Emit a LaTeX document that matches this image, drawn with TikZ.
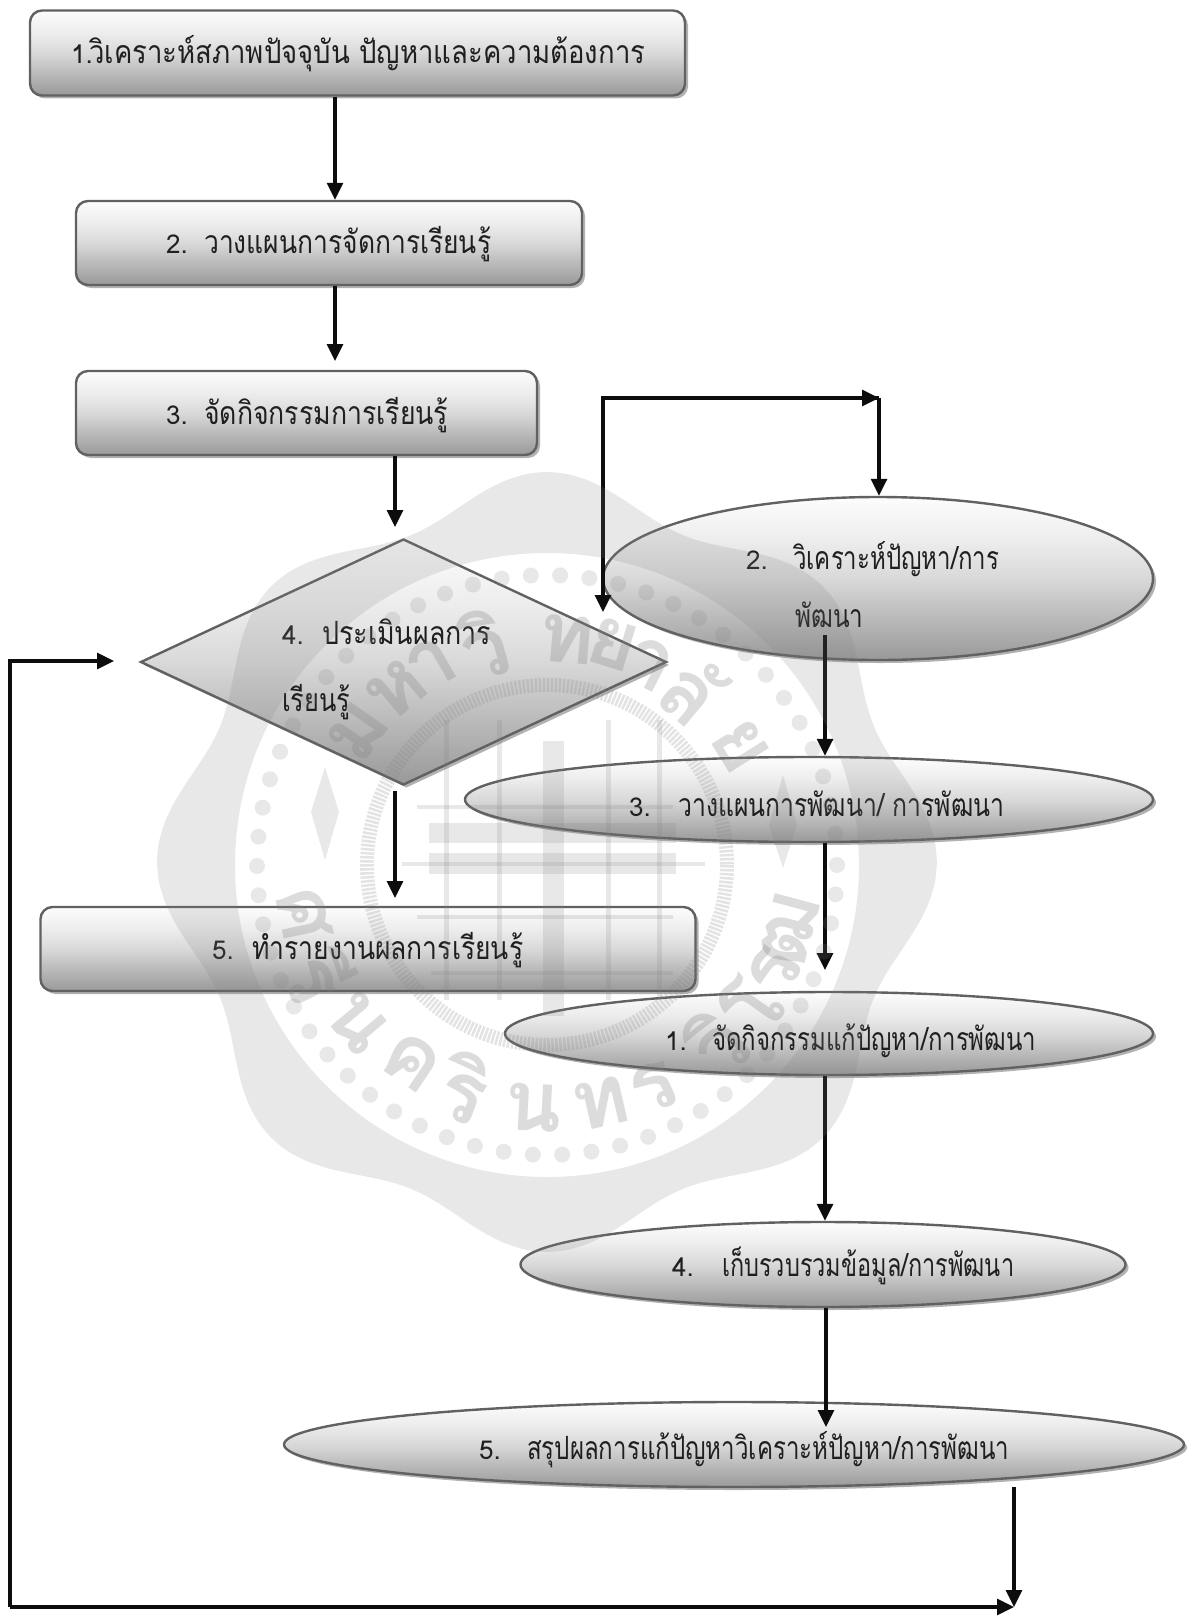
\documentclass[tikz,border=0pt]{standalone}
\usepackage{fontspec}
\usepackage{graphicx}
\setmainfont[Script=Thai]{Loma}
\usetikzlibrary{shapes.geometric,shadows,arrows.meta}
\definecolor{shtop}{gray}{0.99}
\definecolor{shup}{gray}{0.93}
\definecolor{shmid}{gray}{0.85}
\definecolor{shbot}{gray}{0.60}
\definecolor{edgegray}{gray}{0.38}
\definecolor{inkdark}{gray}{0.05}
\pgfdeclareverticalshading{sheen}{100bp}{color(0bp)=(shbot); color(25bp)=(shbot); color(50bp)=(shmid); color(62bp)=(shup); color(75bp)=(shtop); color(100bp)=(shtop)}
\tikzset{
  shapebase/.style={draw=edgegray,line width=2.4pt,shading=sheen,inner sep=0pt,
    drop shadow={shadow xshift=3pt,shadow yshift=-3pt,fill=black!30,opacity=1}},
  boxnode/.style={shapebase,rectangle,rounded corners=12pt},
  ovalnode/.style={shapebase,ellipse},
  decide/.style={shapebase,diamond,aspect=2.14},
  lbl/.style={inner sep=0pt,font=\fontsize{26}{30}\selectfont,text=black!88},
  flow/.style={line width=3.2pt,draw=inkdark,-{Triangle[length=17pt,width=16pt,fill=inkdark]}},
  wmfill/.style={fill=gray,opacity=0.18,draw=none},
  wmline/.style={draw=gray,opacity=0.22},
  wmletter/.style={inner sep=0pt,text=gray,text opacity=0.28,font=\fontsize{84}{86}\selectfont\bfseries},
}
\newcommand{\lab}[7]{%
  \pgfmathsetlengthmacro\gapw{(#3-#2)*1pt}%
  \pgfmathsetlengthmacro\thw{(#4-#3)*1pt}%
  \node[lbl,anchor=base west] (#1) at (#2,#5+9) {\makebox[\gapw][l]{#6}\resizebox{\thw}{\height}{\fontsize{32}{34}\selectfont #7}};%
}
\newcommand{\shp}[6]{\node[#1,minimum width=#5 pt,minimum height=#6 pt] (#2) at (#3,#4) {};}
\newcommand{\wml}[5]{\node[wmletter,rotate=#4] (#1) at (#2,#3) {#5};}
\begin{document}
\begin{tikzpicture}[x=1pt,y=-1pt]
\useasboundingbox (0,0) rectangle (1187,1621);
% shapes
\shp{boxnode}{b1}{357.5}{53}{655}{85}
\shp{boxnode}{b2}{329}{243}{506}{84}
\shp{boxnode}{b3}{306.5}{413}{461}{84}
\shp{decide}{d4}{403.5}{662}{526}{246}
\shp{boxnode}{b5}{368}{949}{655}{84}
\shp{ovalnode}{e2}{878}{578.5}{550}{163}
\shp{ovalnode}{e3}{809}{799.5}{688}{85}
\shp{ovalnode}{e1}{829}{1033.5}{648}{83}
\shp{ovalnode}{e4}{823}{1264.5}{605}{85}
\shp{ovalnode}{e5}{734}{1444.5}{900}{85}
% labels
\lab{t1}{71}{89}{645}{55}{1.}{วิเคราะห์สภาพปัจจุบัน ปัญหาและความต้องการ}
\lab{t2}{166}{204}{491}{245}{2.}{วางแผนการจัดการเรียนรู้}
\lab{t3}{166}{204}{448}{415}{3.}{จัดกิจกรรมการเรียนรู้}
\lab{t4a}{282}{322}{491}{635}{4.}{ประเมินผลการ}
\lab{t4b}{282}{282}{350}{702}{}{เรียนรู้}
\lab{t5}{212}{252}{523}{950}{5.}{ทำรายงานผลการเรียนรู้}
\lab{u2a}{746}{793}{999}{560}{2.}{วิเคราะห์ปัญหา/การ}
\lab{u2b}{795}{795}{863}{618}{}{พัฒนา}
\lab{u3}{629}{678}{1004}{807}{3.}{วางแผนการพัฒนา/ การพัฒนา}
\lab{u1}{665}{712}{1036}{1041}{1.}{จัดกิจกรรมแก้ปัญหา/การพัฒนา}
\lab{u4}{672}{722}{1014}{1267}{4.}{เก็บรวบรวมข้อมูล/การพัฒนา}
\lab{u5}{479}{527}{1009}{1450}{5.}{สรุปผลการแก้ปัญหาวิเคราะห์ปัญหา/การพัฒนา}
% connector guide coordinates
\coordinate (ax1) at (335,0);
\coordinate (ax3) at (395,0);
\coordinate (ax8) at (825,0);
\coordinate (ax9) at (826,0);
\coordinate (ax2) at (879,0);
\coordinate (t3) at (395,527);
\coordinate (t2) at (335,361);
\coordinate (s45) at (395,791);
\coordinate (t45) at (395,898);
\coordinate (s23) at (825,635);
\coordinate (t31) at (825,970);
\coordinate (t55) at (826,1427);
\coordinate (lp) at (603,398);
\coordinate (lpr) at (879,398);
\coordinate (lpd) at (603,612);
\coordinate (rs) at (1014,1487);
\coordinate (re) at (1014,1607);
\coordinate (ld) at (10,1607);
\coordinate (lu) at (10,661);
\coordinate (lt) at (114,661);
% connectors
\draw[flow] (b1.south -| ax1) -- (b2.north -| ax1);
\draw[flow] (b2.south -| ax1) -- (t2);
\draw[flow] (b3.south -| ax3) -- (t3);
\draw[flow] (s45) -- (t45);
\draw[flow] (s23) -- (e3.north -| ax8);
\draw[flow] (e3.south -| ax8) -- (t31);
\draw[flow] (e1.south -| ax8) -- (e4.north -| ax8);
\draw[flow] (e4.south -| ax9) -- (t55);
\draw[flow] (lpr) -- (e2.north -| ax2);
\draw[flow] (lpr) -- (lp) -- (lpd);
\draw[flow] (lp) -- (lpr);
\draw[flow] (rs) -- (re);
\draw[flow] (ld) -- (re);
\draw[flow] (ld) -- (lu) -- (lt);
% watermark seal
\fill[wmfill,even odd rule] plot[domain=0:360,samples=121,smooth cycle] ({547+(372+18*cos(8*\x))*cos(\x)},{862+(372+18*cos(8*\x))*sin(\x)}) (547,865) circle[radius=312];
\foreach \a in {0,5.8,...,354} {\fill[wmfill] ({547+290*cos(\a)},{865+290*sin(\a)}) circle[radius=8];}
\draw[wmline,line width=14pt,dash pattern=on 2.5pt off 1.5pt] (547,865) circle[radius=180];
\fill[wmfill] (543,741) rectangle (564,1016);
\foreach \vx in {446,499,608,659} {\fill[wmfill] (\vx-2.5,720) rectangle (\vx+2.5,1000);}
\fill[wmfill] (429,823) rectangle (676,843);
\fill[wmfill] (429,853) rectangle (676,874);
\fill[wmfill] (417,805) rectangle (673,809);
\fill[wmfill] (402,862) rectangle (705,866);
\fill[wmfill] (417,915) rectangle (673,919);
\fill[wmfill] (431,971) rectangle (673,975);
\fill[wmfill] (325,767) -- (339,812) -- (325,860) -- (311,812) -- cycle;
\fill[wmfill] (783,775) -- (797,825) -- (783,868) -- (769,825) -- cycle;
\wml{w1}{358}{731}{55}{ม}
\wml{w2}{397}{690}{40}{ห}
\wml{w3}{431}{664}{30}{า}
\wml{w4}{484}{644}{16}{วิ}
\wml{w5}{567}{639}{-5}{ท}
\wml{w6}{613}{644}{-17}{ย}
\wml{w7}{649}{664}{-27}{า}
\wml{w8}{693}{690}{-40}{ลั}
\wml{w9}{741}{746}{-58}{ย}
\wml{x1}{305}{914}{-78}{ศ}
\wml{x2}{320}{976}{-64}{รี}
\wml{x3}{358}{1022}{-50}{น}
\wml{x4}{412}{1062}{-34}{ค}
\wml{x5}{465}{1088}{-20}{ริ}
\wml{x6}{533}{1108}{-3}{น}
\wml{x7}{601}{1103}{13}{ท}
\wml{x8}{654}{1088}{25}{ร}
\wml{x9}{717}{1042}{44}{วิ}
\wml{y1}{751}{1006}{55}{โ}
\wml{y2}{775}{971}{65}{ร}
\wml{y3}{790}{930}{75}{ฒ}
\end{tikzpicture}
\end{document}
